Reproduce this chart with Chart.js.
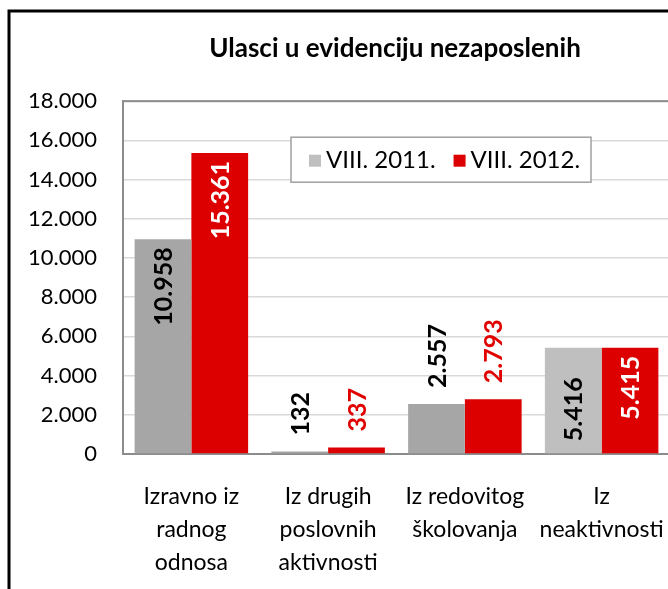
<!DOCTYPE html>
<html>
<head>
<meta charset="utf-8">
<script src="https://cdn.jsdelivr.net/npm/chart.js@4.4.1/dist/chart.umd.min.js"></script>
<style>
  html, body { margin: 0; padding: 0; background: #fff; overflow: hidden; }
  canvas { display: block; }
</style>
</head>
<body>
<canvas id="chart" width="780" height="589"></canvas>
<script>
// data
const categories = [
  ['Izravno iz', 'radnog', 'odnosa'],
  ['Iz drugih', 'poslovnih', 'aktivnosti'],
  ['Iz redovitog', 'školovanja'],
  ['Iz', 'neaktivnosti']
];
const seriesNames = ['VIII. 2011.', 'VIII. 2012.'];
const values2011 = [10958, 132, 2557, 5416];
const values2012 = [15361, 337, 2793, 5415];
const yMin = 0;
const yMax = 18000;
const yStep = 2000;

const gray = ['#a6a6a6', '#a6a6a6', '#a6a6a6', '#bfbfbf'];
const red = '#dd0000';
const legendColors = ['#bfbfbf', red];

// where each value label sits (out = above bar, end = inside top, base = inside bottom)
const labelStyle = [
  { anchor: ['end', 'out', 'out', 'base'], color: ['#000', '#000', '#000', '#000'] },
  { anchor: ['end', 'out', 'out', 'end'], color: ['#fff', '#e00000', '#e00000', '#fff'] }
];

const fmt = v => String(v).replace(/\B(?=(\d{3})+(?!\d))/g, '.');

Chart.defaults.font.family = 'Lato, "Open Sans", sans-serif';
Chart.defaults.color = '#000';

const framePlugin = {
  id: 'frame',
  beforeDraw(chart) {
    const ctx = chart.ctx;
    ctx.save();
    ctx.fillStyle = '#fff';
    ctx.fillRect(0, 0, chart.width, chart.height);
    ctx.strokeStyle = '#000';
    ctx.lineWidth = 3;
    ctx.strokeRect(9, 11, chart.width + 20, chart.height + 20);
    ctx.restore();
  },
  beforeDatasetsDraw(chart) {
    const { ctx, chartArea: a } = chart;
    ctx.save();
    ctx.strokeStyle = '#8c8c8c';
    ctx.lineWidth = 2;
    ctx.strokeRect(a.left, a.top, a.right - a.left, a.bottom - a.top);
    ctx.restore();
  }
};

const valueLabels = {
  id: 'valueLabels',
  afterDatasetsDraw(chart) {
    const ctx = chart.ctx;
    ctx.save();
    ctx.font = 'bold 25px Lato, "Open Sans", sans-serif';
    ctx.textBaseline = 'middle';
    chart.data.datasets.forEach((ds, di) => {
      const meta = chart.getDatasetMeta(di);
      meta.data.forEach((bar, i) => {
        const anchor = labelStyle[di].anchor[i];
        let y, align;
        if (anchor === 'out') { y = bar.y - 16; align = 'left'; }
        else if (anchor === 'end') { y = bar.y + 8; align = 'right'; }
        else { y = bar.base - 12; align = 'left'; }
        ctx.save();
        ctx.translate(bar.x + 1, y);
        ctx.rotate(-Math.PI / 2);
        ctx.textAlign = align;
        ctx.fillStyle = labelStyle[di].color[i];
        ctx.fillText(fmt(ds.data[i]), 0, 0);
        ctx.restore();
      });
    });
    ctx.restore();
  }
};

const boxLegend = {
  id: 'boxLegend',
  afterDraw(chart) {
    const { ctx, chartArea: a } = chart;
    const x0 = a.left + 168, y0 = a.top + 36, w = 300, h = 45;
    ctx.save();
    ctx.fillStyle = '#fff';
    ctx.fillRect(x0, y0, w, h);
    ctx.strokeStyle = '#a0a0a0';
    ctx.lineWidth = 1.5;
    ctx.strokeRect(x0, y0, w, h);
    ctx.font = '24px Lato, "Open Sans", sans-serif';
    ctx.textBaseline = 'middle';
    ctx.textAlign = 'left';
    let x = x0 + 18;
    const cy = y0 + h / 2 + 1;
    seriesNames.forEach((name, i) => {
      ctx.fillStyle = legendColors[i];
      ctx.fillRect(x, cy - 6, 12, 12);
      x += 17;
      ctx.fillStyle = '#000';
      ctx.fillText(name, x, cy);
      x += ctx.measureText(name).width + 18;
    });
    ctx.restore();
  }
};

new Chart(document.getElementById('chart'), {
  type: 'bar',
  data: {
    labels: categories,
    datasets: [
      { label: seriesNames[0], data: values2011, backgroundColor: gray },
      { label: seriesNames[1], data: values2012, backgroundColor: red }
    ]
  },
  options: {
    responsive: false,
    animation: false,
    devicePixelRatio: 1,
    layout: { padding: { left: 10, right: 0, top: 12, bottom: 0 } },
    datasets: { bar: { categoryPercentage: 0.83, barPercentage: 1 } },
    plugins: {
      legend: { display: false },
      tooltip: { enabled: false },
      title: {
        display: true,
        text: 'Ulasci u evidenciju nezaposlenih',
        font: { size: 26, weight: 'bold' },
        color: '#000',
        padding: { top: 21, bottom: 37 }
      }
    },
    scales: {
      x: {
        grid: { display: false, drawTicks: false },
        border: { color: '#8c8c8c', width: 2 },
        ticks: { font: { size: 23, lineHeight: 1.43 }, padding: 26, maxRotation: 0, autoSkip: false },
        afterFit(s) { s.height = 135; }
      },
      y: {
        min: yMin,
        max: yMax,
        grid: { color: '#d9d9d9', lineWidth: 1.5, drawTicks: false },
        border: { color: '#8c8c8c', width: 2 },
        ticks: { stepSize: yStep, font: { size: 22 }, padding: 26, callback: v => fmt(v) },
        afterFit(s) { s.width = 113; }
      },
      // empty right-hand space so the title centres over the whole (cropped) frame
      spacer: {
        type: 'linear',
        position: 'right',
        grid: { display: false, drawTicks: false },
        border: { display: false },
        ticks: { display: false },
        afterFit(s) { s.width = 110; }
      }
    }
  },
  plugins: [framePlugin, valueLabels, boxLegend]
});
</script>
</body>
</html>
